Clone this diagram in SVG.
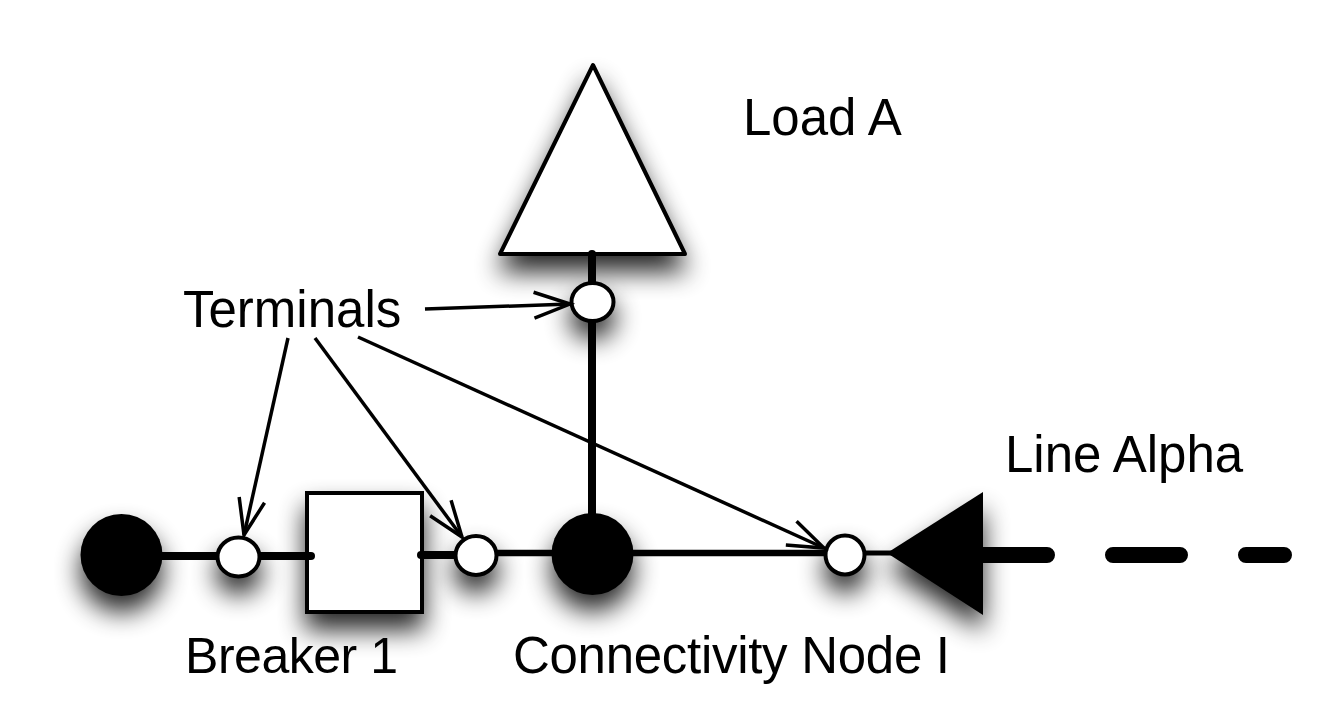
<svg xmlns="http://www.w3.org/2000/svg" width="1342" height="725" viewBox="0 0 1342 725">
<style>
text{font-family:"Liberation Sans",Arial,sans-serif;font-size:51px;fill:#000}
.wire{stroke:#000;fill:none;stroke-width:8;stroke-linecap:round}
.thin{stroke:#000;fill:none;stroke-width:6.5}
.pt{stroke:#000;fill:none;stroke-width:3.5}
.term{fill:#fff;stroke:#000;stroke-width:4}
.sh{fill:#fff;stroke:#000;stroke-width:4}
</style>
<defs>
<filter id="s" filterUnits="userSpaceOnUse" x="0" y="0" width="1342" height="725"><feGaussianBlur in="SourceAlpha" stdDeviation="13"/><feOffset dy="16"/><feComponentTransfer><feFuncA type="linear" slope="0.85"/></feComponentTransfer><feMerge><feMergeNode/><feMergeNode in="SourceGraphic"/></feMerge></filter>
<marker id="a" markerUnits="userSpaceOnUse" markerWidth="44" markerHeight="36" refX="38" refY="18" orient="auto"><path d="M2 5L38 18L2 31" fill="none" stroke="#000" stroke-width="3.5"/></marker>
</defs>
<rect width="1342" height="725" fill="#fff"/>
<g id="nodes-back">
<g id="load-a" filter="url(#s)"><path class="sh" d="M593 65L685 254H500Z" stroke-linejoin="round"/></g>
<g id="bus-left" filter="url(#s)"><circle cx="121.5" cy="555" r="41" fill="#000"/></g>
<g id="breaker-1" filter="url(#s)"><rect class="sh" x="307" y="493" width="115" height="119"/></g>
<g id="connectivity-node" filter="url(#s)"><circle cx="592.5" cy="554" r="41" fill="#000"/></g>
<g id="line-alpha" filter="url(#s)"><path d="M887 553L983 492V615Z" fill="#000"/></g>
</g>
<g id="connectors">
<path class="wire" d="M592 254V540"/>
<path class="wire" d="M150 556H311"/>
<path class="wire" d="M421 555H470"/>
<path class="thin" d="M480 553H560M620 553H830"/>
<path class="thin" d="M860 553H895" style="stroke-width:5"/>
<path d="M983 555H1047M1113 555H1180M1246 555H1284" fill="none" stroke="#000" stroke-width="16" stroke-linecap="round"/>
</g>
<g id="terminal-1" filter="url(#s)"><ellipse class="term" cx="238.5" cy="557" rx="21" ry="19.5"/></g>
<g id="terminal-2" filter="url(#s)"><ellipse class="term" cx="476" cy="555.5" rx="20.5" ry="19.5"/></g>
<g id="terminal-3" filter="url(#s)"><ellipse class="term" cx="592.5" cy="302" rx="21" ry="19"/></g>
<g id="terminal-4" filter="url(#s)"><ellipse class="term" cx="845" cy="555" rx="19.5" ry="19.5"/></g>
<g id="leaders">
<path class="pt" marker-end="url(#a)" d="M425 309L570 304"/>
<path class="pt" marker-end="url(#a)" d="M288 338L244 535"/>
<path class="pt" marker-end="url(#a)" d="M315 338L462 537"/>
<path class="pt" marker-end="url(#a)" d="M358 337L824 548"/>
</g>
<text x="743" y="135">Load A</text>
<text x="183" y="327">Terminals</text>
<text x="1005" y="472">Line Alpha</text>
<text x="185" y="673" style="font-size:50px" textLength="213">Breaker 1</text>
<text x="513" y="673" textLength="437">Connectivity Node I</text>
</svg>
